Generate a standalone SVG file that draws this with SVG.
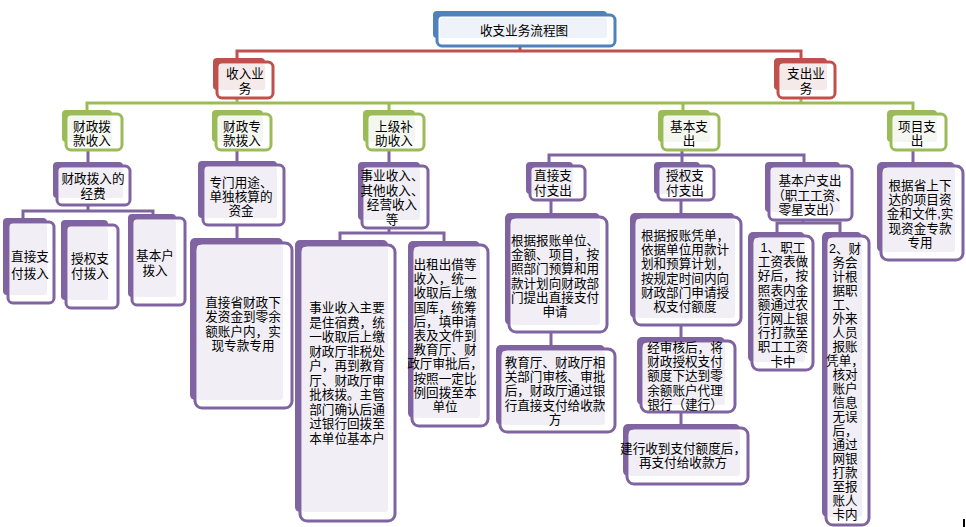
<svg xmlns="http://www.w3.org/2000/svg" width="966" height="527" viewBox="0 0 966 527">
<style>
text{font-family:"Liberation Sans","Noto Sans CJK SC",sans-serif;font-size:12.6px;fill:#000;text-anchor:middle}
.bb{fill:#4f81bd}.fb{fill:#fff;stroke:#4f81bd;stroke-width:3}.tb{fill:#eef2f9}
.br{fill:#c0504d}.fr{fill:#fff;stroke:#c0504d;stroke-width:3}.tr{fill:#f5eaea}
.bg{fill:#9bbb59}.fg{fill:#fff;stroke:#9bbb59;stroke-width:3}.tg{fill:#f4f7ef}
.bp{fill:#8064a2}.fp{fill:#fff;stroke:#8064a2;stroke-width:3}.tp{fill:#f1eff5}
.c{fill:none;stroke-width:3}
</style>
<g id="connectors">
<path class="c" stroke="#c0504d" d="M520,46V51M237,58V51H801V58"/>
<path class="c" stroke="#9bbb59" d="M237,98V103M801,98V103M87,110V103H913V110M389,103V110M683,103V110"/>
<path class="c" stroke="#8064a2" d="M88,150V162M88,205V211M23,218V211H153V214M237,150V161M237,225V238M389,150V162M389,228V233M340,240V233H444V241M682,150V162M549,162V155H804V162M913,150V162M551,200V213M551,332V345M681,200V213M681,325V337M681,412V424M803,220V223M777,232V223H840V232"/>
</g>
<g id="n-title">
<rect class="bb" x="433" y="11" width="174" height="27" rx="4"/>
<rect class="fb" x="437" y="15" width="178" height="31" rx="5"/>
<rect class="tb" x="440" y="18" width="167" height="20" rx="2"/>
<text x="524" y="35">收支业务流程图</text>
</g>
<g id="n-income">
<rect class="br" x="213" y="58" width="52" height="32" rx="4"/>
<rect class="fr" x="217" y="62" width="56" height="36" rx="5"/>
<rect class="tr" x="219" y="64" width="46" height="26" rx="2"/>
<text x="245"><tspan x="245" y="78">收入业</tspan><tspan x="245" y="93">务</tspan></text>
</g>
<g id="n-expense">
<rect class="br" x="774" y="58" width="53" height="32" rx="4"/>
<rect class="fr" x="778" y="62" width="57" height="36" rx="5"/>
<rect class="tr" x="780" y="64" width="47" height="26" rx="2"/>
<text><tspan x="806" y="78">支出业</tspan><tspan x="806" y="93">务</tspan></text>
</g>
<g id="n-czbk">
<rect class="bg" x="62" y="110" width="50" height="32" rx="4"/>
<rect class="fg" x="66" y="114" width="56" height="36" rx="5"/>
<rect class="tg" x="68" y="116" width="44" height="26" rx="2"/>
<text><tspan x="92" y="131">财政拨</tspan><tspan x="92" y="145">款收入</tspan></text>
</g>
<g id="n-czzk">
<rect class="bg" x="212" y="110" width="51" height="32" rx="4"/>
<rect class="fg" x="216" y="114" width="55" height="36" rx="5"/>
<rect class="tg" x="218" y="116" width="45" height="26" rx="2"/>
<text><tspan x="242" y="131">财政专</tspan><tspan x="242" y="145">款拨入</tspan></text>
</g>
<g id="n-sjbz">
<rect class="bg" x="363" y="110" width="52" height="32" rx="4"/>
<rect class="fg" x="367" y="114" width="57" height="36" rx="5"/>
<rect class="tg" x="369" y="116" width="46" height="26" rx="2"/>
<text><tspan x="394" y="131">上级补</tspan><tspan x="394" y="145">助收入</tspan></text>
</g>
<g id="n-jbzc">
<rect class="bg" x="658" y="110" width="52" height="32" rx="4"/>
<rect class="fg" x="662" y="114" width="57" height="36" rx="5"/>
<rect class="tg" x="664" y="116" width="46" height="26" rx="2"/>
<text><tspan x="689" y="131">基本支</tspan><tspan x="689" y="145">出</tspan></text>
</g>
<g id="n-xmzc">
<rect class="bg" x="887" y="110" width="50" height="32" rx="4"/>
<rect class="fg" x="891" y="114" width="55" height="36" rx="5"/>
<rect class="tg" x="893" y="116" width="44" height="26" rx="2"/>
<text><tspan x="917" y="131">项目支</tspan><tspan x="917" y="145">出</tspan></text>
</g>
<g id="n-czbrjf">
<rect class="bp" x="53" y="162" width="70" height="36" rx="4"/>
<rect class="fp" x="57" y="166" width="73" height="39" rx="5"/>
<rect class="tp" x="59" y="168" width="64" height="30" rx="2"/>
<text><tspan x="93" y="183">财政拨入的</tspan><tspan x="93" y="198">经费</tspan></text>
</g>
<g id="n-zjzfbr">
<rect class="bp" x="3" y="218" width="44" height="77" rx="4"/>
<rect class="fp" x="8" y="222" width="46" height="81" rx="5"/>
<rect class="tp" x="10" y="224" width="37" height="71" rx="2"/>
<text><tspan x="30" y="261">直接支</tspan><tspan x="30" y="278">付拨入</tspan></text>
</g>
<g id="n-sqzfbr">
<rect class="bp" x="61" y="220" width="47" height="80" rx="4"/>
<rect class="fp" x="66" y="225" width="52" height="83" rx="5"/>
<rect class="tp" x="68" y="227" width="40" height="73" rx="2"/>
<text><tspan x="90" y="263">授权支</tspan><tspan x="90" y="278">付拨入</tspan></text>
</g>
<g id="n-jbhbr">
<rect class="bp" x="128" y="214" width="48" height="83" rx="4"/>
<rect class="fp" x="132" y="218" width="53" height="87" rx="5"/>
<rect class="tp" x="134" y="220" width="42" height="77" rx="2"/>
<text><tspan x="155" y="260">基本户</tspan><tspan x="155" y="275">拨入</tspan></text>
</g>
<g id="n-zmyt">
<rect class="bp" x="198" y="161" width="79" height="57" rx="4"/>
<rect class="fp" x="203" y="165" width="81" height="60" rx="5"/>
<rect class="tp" x="205" y="167" width="72" height="51" rx="2"/>
<text><tspan x="241" y="187">专门用途、</tspan><tspan x="241" y="201">单独核算的</tspan><tspan x="241" y="215">资金</tspan></text>
</g>
<g id="n-zjscz">
<rect class="bp" x="190" y="238" width="93" height="162" rx="5"/>
<rect class="fp" x="195" y="243" width="97" height="165" rx="7"/>
<rect class="tp" x="197" y="245" width="86" height="155" rx="3"/>
<text><tspan x="243" y="307">直接省财政下</tspan><tspan x="243" y="321">发资金到零余</tspan><tspan x="243" y="336">额账户内，实</tspan><tspan x="243" y="350">现专款专用</tspan></text>
</g>
<g id="n-sysr">
<rect class="bp" x="358" y="162" width="62" height="58" rx="4"/>
<rect class="fp" x="362" y="166" width="66" height="62" rx="5"/>
<rect class="tp" x="364" y="168" width="56" height="52" rx="2"/>
<text><tspan x="392" y="180">事业收入、</tspan><tspan x="392" y="194.5">其他收入、</tspan><tspan x="392" y="209">经营收入</tspan><tspan x="392" y="223.5">等</tspan></text>
</g>
<g id="n-sysrzy">
<rect class="bp" x="295" y="240" width="93" height="272" rx="5"/>
<rect class="fp" x="300" y="245" width="95" height="276" rx="7"/>
<rect class="tp" x="302" y="247" width="86" height="265" rx="3"/>
<text><tspan x="347" y="312">事业收入主要</tspan><tspan x="347" y="326.5">是住宿费，统</tspan><tspan x="347" y="341">一收取后上缴</tspan><tspan x="347" y="355.5">财政厅非税处</tspan><tspan x="347" y="370">户，再到教育</tspan><tspan x="347" y="384.5">厅、财政厅审</tspan><tspan x="347" y="399">批核拨。主管</tspan><tspan x="347" y="413.5">部门确认后通</tspan><tspan x="347" y="428">过银行回拨至</tspan><tspan x="347" y="442.5">本单位基本户</tspan></text>
</g>
<g id="n-czcj">
<rect class="bp" x="408" y="241" width="72" height="177" rx="5"/>
<rect class="fp" x="412" y="245" width="76" height="181" rx="7"/>
<rect class="tp" x="414" y="247" width="66" height="171" rx="3"/>
<text><tspan x="445" y="269">出租出借等</tspan><tspan x="445" y="283.2">收入，统一</tspan><tspan x="445" y="297.4">收取后上缴</tspan><tspan x="445" y="311.6">国库，统筹</tspan><tspan x="445" y="325.8">后，填申请</tspan><tspan x="445" y="340">表及文件到</tspan><tspan x="445" y="354.2">教育厅、财</tspan><tspan x="445" y="368.4">政厅审批后，</tspan><tspan x="445" y="382.6">按照一定比</tspan><tspan x="445" y="396.8">例回拨至本</tspan><tspan x="445" y="411">单位</tspan></text>
</g>
<g id="n-zjzfzc">
<rect class="bp" x="526" y="162" width="47" height="32" rx="4"/>
<rect class="fp" x="530" y="166" width="55" height="34" rx="5"/>
<rect class="tp" x="532" y="168" width="41" height="26" rx="2"/>
<text><tspan x="553" y="180">直接支</tspan><tspan x="553" y="195">付支出</tspan></text>
</g>
<g id="n-sqzfzc">
<rect class="bp" x="654" y="162" width="46" height="32" rx="4"/>
<rect class="fp" x="658" y="166" width="56" height="34" rx="5"/>
<rect class="tp" x="660" y="168" width="40" height="26" rx="2"/>
<text><tspan x="685" y="180">授权支</tspan><tspan x="685" y="195">付支出</tspan></text>
</g>
<g id="n-jbhzc">
<rect class="bp" x="765" y="162" width="75" height="50" rx="4"/>
<rect class="fp" x="769" y="166" width="83" height="54" rx="5"/>
<rect class="tp" x="771" y="168" width="69" height="44" rx="2"/>
<text><tspan x="810" y="185">基本户支出</tspan><tspan x="810" y="199.5">（职工工资、</tspan><tspan x="810" y="214">零星支出）</tspan></text>
</g>
<g id="n-gjss">
<rect class="bp" x="877" y="162" width="78" height="90" rx="5"/>
<rect class="fp" x="881" y="166" width="82" height="94" rx="7"/>
<rect class="tp" x="883" y="168" width="72" height="84" rx="3"/>
<text><tspan x="920" y="190">根据省上下</tspan><tspan x="920" y="204.2">达的项目资</tspan><tspan x="920" y="218.4">金和文件,实</tspan><tspan x="920" y="232.6">现资金专款</tspan><tspan x="920" y="246.8">专用</tspan></text>
</g>
<g id="n-gjbzdw">
<rect class="bp" x="505" y="213" width="95" height="112" rx="5"/>
<rect class="fp" x="509" y="217" width="98" height="115" rx="7"/>
<rect class="tp" x="511" y="219" width="89" height="106" rx="3"/>
<text><tspan x="555" y="245">根据报账单位、</tspan><tspan x="555" y="259.2">金额、项目，按</tspan><tspan x="555" y="273.4">照部门预算和用</tspan><tspan x="555" y="287.6">款计划向财政部</tspan><tspan x="555" y="301.8">门提出直接支付</tspan><tspan x="555" y="316">申请</tspan></text>
</g>
<g id="n-gjbzpd">
<rect class="bp" x="630" y="213" width="105" height="105" rx="5"/>
<rect class="fp" x="634" y="217" width="107" height="108" rx="7"/>
<rect class="tp" x="636" y="219" width="99" height="99" rx="3"/>
<text><tspan x="685" y="240">根据报账凭单，</tspan><tspan x="685" y="254.2">依据单位用款计</tspan><tspan x="685" y="268.4">划和预算计划，</tspan><tspan x="685" y="282.6">按规定时间内向</tspan><tspan x="685" y="296.8">财政部门申请授</tspan><tspan x="685" y="311">权支付额度</tspan></text>
</g>
<g id="n-jyt">
<rect class="bp" x="496" y="345" width="109" height="80" rx="5"/>
<rect class="fp" x="500" y="349" width="115" height="83" rx="7"/>
<rect class="tp" x="502" y="351" width="103" height="74" rx="3"/>
<text><tspan x="555" y="367">教育厅、财政厅相</tspan><tspan x="555" y="381.2">关部门审核、审批</tspan><tspan x="555" y="395.4">后，财政厅通过银</tspan><tspan x="555" y="409.6">行直接支付给收款</tspan><tspan x="555" y="423.8">方</tspan></text>
</g>
<g id="n-jshh">
<rect class="bp" x="637" y="337" width="88" height="68" rx="5"/>
<rect class="fp" x="641" y="341" width="94" height="71" rx="7"/>
<rect class="tp" x="643" y="343" width="82" height="62" rx="3"/>
<text><tspan x="685" y="352">经审核后，将</tspan><tspan x="685" y="366.2">财政授权支付</tspan><tspan x="685" y="380.4">额度下达到零</tspan><tspan x="685" y="394.6">余额账户代理</tspan><tspan x="685" y="408.8">银行（建行）</tspan></text>
</g>
<g id="n-jhsd">
<rect class="bp" x="623" y="424" width="117" height="52" rx="5"/>
<rect class="fp" x="627" y="428" width="121" height="56" rx="7"/>
<rect class="tp" x="629" y="430" width="111" height="46" rx="3"/>
<text><tspan x="683" y="453">建行收到支付额度后，</tspan><tspan x="683" y="467.2">再支付给收款方</tspan></text>
</g>
<g id="n-zggz">
<rect class="bp" x="748" y="232" width="57" height="130" rx="5"/>
<rect class="fp" x="752" y="236" width="61" height="134" rx="7"/>
<rect class="tp" x="754" y="238" width="51" height="124" rx="3"/>
<text><tspan x="783" y="252">1、职工</tspan><tspan x="783" y="266.2">工资表做</tspan><tspan x="783" y="280.4">好后，按</tspan><tspan x="783" y="294.6">照表内金</tspan><tspan x="783" y="308.8">额通过农</tspan><tspan x="783" y="323">行网上银</tspan><tspan x="783" y="337.2">行打款至</tspan><tspan x="783" y="351.4">职工工资</tspan><tspan x="783" y="365.6">卡中</tspan></text>
</g>
<g id="n-cwkj">
<rect class="bp" x="822" y="232" width="40" height="285" rx="5"/>
<rect class="fp" x="826" y="236" width="43" height="289" rx="7"/>
<rect class="tp" x="828" y="238" width="34" height="279" rx="3"/>
<text><tspan x="845" y="253">2、财</tspan><tspan x="845" y="267">务会</tspan><tspan x="845" y="281">计根</tspan><tspan x="845" y="295">据职</tspan><tspan x="845" y="309">工、</tspan><tspan x="845" y="323">外来</tspan><tspan x="845" y="337">人员</tspan><tspan x="845" y="351">报账</tspan><tspan x="845" y="365">凭单，</tspan><tspan x="845" y="379">核对</tspan><tspan x="845" y="393">账户</tspan><tspan x="845" y="407">信息</tspan><tspan x="845" y="421">无误</tspan><tspan x="845" y="435">后，</tspan><tspan x="845" y="449">通过</tspan><tspan x="845" y="463">网银</tspan><tspan x="845" y="477">打款</tspan><tspan x="845" y="491">至报</tspan><tspan x="845" y="505">账人</tspan><tspan x="845" y="519">卡内</tspan></text>
</g>
<rect x="963" y="519" width="2" height="8" fill="#000"/>
</svg>
